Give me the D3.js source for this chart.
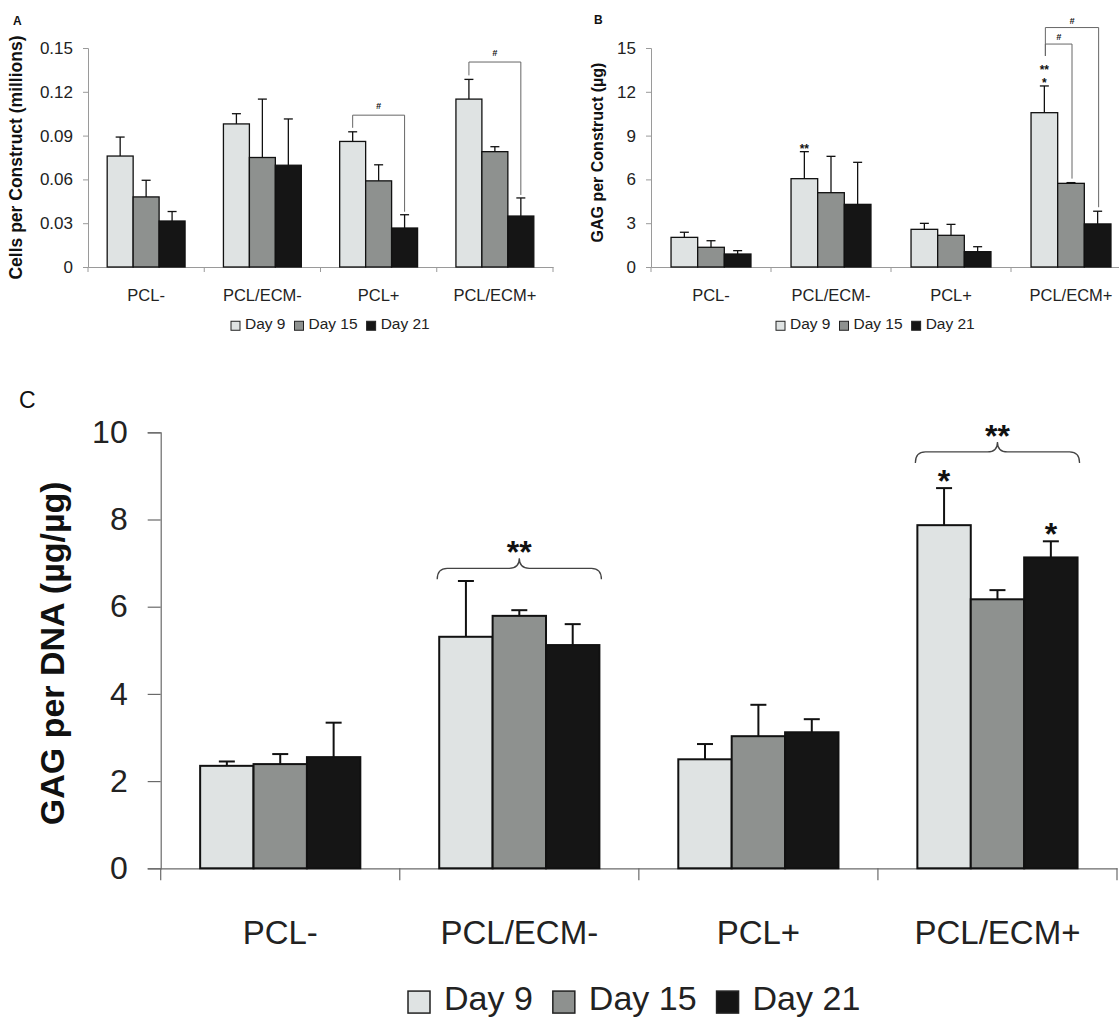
<!DOCTYPE html>
<html>
<head>
<meta charset="utf-8">
<script src="https://cdn.jsdelivr.net/npm/d3@7/dist/d3.min.js"></script>
<style>
  body { margin: 0; background: #fff; }
  svg { display: block; font-family: "Liberation Sans", Arial, sans-serif; }
</style>
</head>
<body>
<script>
// ---------------- DATA ----------------
const categories = ["PCL-", "PCL/ECM-", "PCL+", "PCL/ECM+"];
const days = ["Day 9", "Day 15", "Day 21"];

// Panel A: Cells per Construct (millions)
const cellsDay9 = [0.076, 0.098, 0.086, 0.115];
const cellsDay15 = [0.048, 0.075, 0.059, 0.079];
const cellsDay21 = [0.0315, 0.0697, 0.0267, 0.0349];
const cellsErr9 = [0.013, 0.007, 0.0066, 0.0135];
const cellsErr15 = [0.0114, 0.040, 0.011, 0.0034];
const cellsErr21 = [0.0065, 0.0317, 0.0091, 0.0124];
const cellsTicks = [0, 0.03, 0.06, 0.09, 0.12, 0.15];
const cellsTickLabels = ["0", "0.03", "0.06", "0.09", "0.12", "0.15"];

// Panel B: GAG per Construct (µg)
const gagDay9 = [2.03, 6.05, 2.58, 10.57];
const gagDay15 = [1.35, 5.09, 2.17, 5.73];
const gagDay21 = [0.89, 4.29, 1.05, 2.95];
const gagErr9 = [0.35, 1.85, 0.41, 1.83];
const gagErr15 = [0.45, 2.49, 0.75, 0.05];
const gagErr21 = [0.23, 2.88, 0.34, 0.87];
const gagTicks = [0, 3, 6, 9, 12, 15];
const gagTickLabels = ["0", "3", "6", "9", "12", "15"];

// Panel C: GAG per DNA (µg/µg)
const dnaDay9 = [2.35, 5.31, 2.50, 7.87];
const dnaDay15 = [2.39, 5.79, 3.03, 6.17];
const dnaDay21 = [2.55, 5.12, 3.12, 7.13];
const dnaErr9 = [0.10, 1.28, 0.35, 0.85];
const dnaErr15 = [0.23, 0.13, 0.72, 0.21];
const dnaErr21 = [0.79, 0.48, 0.30, 0.37];
const dnaTicks = [0, 2, 4, 6, 8, 10];
const dnaTickLabels = ["0", "2", "4", "6", "8", "10"];

// Significance annotations (category index, series indices, level, label)
const cellsBrackets = [
  { cat: 2, from: 0, to: 2, level: 0.104, label: "#" },
  { cat: 3, from: 0, to: 2, level: 0.1404, label: "#" }
];
const gagStars = [
  { cat: 1, series: 0, label: "**" },
  { cat: 3, series: 0, label: "*" },
  { cat: 3, series: 0, label: "**", stack: 1 }
];
const gagBrackets = [
  { cat: 3, from: 0, to: 1, level: 15.27, label: "#" },
  { cat: 3, from: 0, to: 2, level: 16.4, label: "#" }
];
const dnaBraces = [
  { cat: 1, level: 6.88, label: "**" },
  { cat: 3, level: 9.55, label: "**" }
];
const dnaStars = [
  { cat: 3, series: 0, label: "*" },
  { cat: 3, series: 2, label: "*" }
];

// ---------------- STYLE ----------------
const fills = ["#dfe3e3", "#8e918f", "#151515"];
const W = 1119, H = 1017;
const svg = d3.select("body").append("svg").attr("width", W).attr("height", H);

function drawPanel(o) {
  const g = svg.append("g");
  const x0 = d3.scaleBand().domain(categories).range(o.xr);
  const bw = x0.bandwidth();
  const x1 = d3.scaleBand().domain(days).range([bw * o.pad, bw * (1 - o.pad)]);
  const y = d3.scaleLinear().domain([0, o.ymax]).range(o.yr);

  // y axis
  const ya = g.append("g").attr("transform", `translate(${o.xr[0]},0)`)
    .call(d3.axisLeft(y).tickValues(o.ticks).tickFormat((d, i) => o.tickLabels[i])
      .tickSize(o.tickLen).tickPadding(o.tickPad));
  ya.select(".domain").attr("stroke", o.axisColor).attr("stroke-width", o.axisW);
  ya.selectAll(".tick line").attr("stroke", o.axisColor).attr("stroke-width", o.axisW);
  ya.selectAll(".tick text").attr("font-size", o.tickFont).attr("fill", "#222")
    .attr("font-family", "Liberation Sans, Arial, sans-serif");

  // x axis (labels at band centres, ticks at band boundaries)
  const xa = g.append("g").attr("transform", `translate(0,${y(0)})`)
    .call(d3.axisBottom(x0).tickSize(0).tickPadding(o.catPad));
  xa.select(".domain").attr("stroke", o.axisColor).attr("stroke-width", o.axisW);
  xa.selectAll(".tick text").attr("font-size", o.catFont).attr("fill", "#222")
    .attr("font-family", "Liberation Sans, Arial, sans-serif");
  const bounds = categories.map(c => x0(c)).concat([o.xr[1]]);
  g.selectAll(".xb").data(bounds).enter().append("line")
    .attr("x1", d => d).attr("x2", d => d)
    .attr("y1", y(0)).attr("y2", y(0) + o.xTickLen)
    .attr("stroke", o.axisColor).attr("stroke-width", o.axisW);

  // bars
  const rows = [];
  categories.forEach((c, i) => {
    days.forEach((d, j) => {
      rows.push({ c, d, i, j, v: o.series[j][i], e: o.errs[j][i] });
    });
  });
  g.selectAll(".bar").data(rows).enter().append("rect")
    .attr("x", r => x0(r.c) + x1(r.d))
    .attr("y", r => y(r.v))
    .attr("width", x1.bandwidth())
    .attr("height", r => y(0) - y(r.v))
    .attr("fill", r => fills[r.j])
    .attr("stroke", "#111").attr("stroke-width", o.barStroke);

  // error bars (upper only)
  const eg = g.selectAll(".err").data(rows).enter().append("g");
  eg.append("line")
    .attr("x1", r => x0(r.c) + x1(r.d) + x1.bandwidth() / 2)
    .attr("x2", r => x0(r.c) + x1(r.d) + x1.bandwidth() / 2)
    .attr("y1", r => y(r.v)).attr("y2", r => y(r.v + r.e))
    .attr("stroke", "#111").attr("stroke-width", o.errW);
  eg.append("line")
    .attr("x1", r => x0(r.c) + x1(r.d) + x1.bandwidth() / 2 - o.cap / 2)
    .attr("x2", r => x0(r.c) + x1(r.d) + x1.bandwidth() / 2 + o.cap / 2)
    .attr("y1", r => y(r.v + r.e)).attr("y2", r => y(r.v + r.e))
    .attr("stroke", "#111").attr("stroke-width", o.errW);

  // axis title
  g.append("text")
    .attr("transform", `translate(${o.titleX},${(o.yr[0] + o.yr[1]) / 2 + o.titleDy}) rotate(-90)`)
    .attr("text-anchor", "middle").attr("font-weight", "bold")
    .attr("font-size", o.titleFont).attr("fill", "#111").text(o.title);

  // panel letter
  g.append("text").attr("x", o.letterX).attr("y", o.letterY)
    .attr("font-size", o.letterFont).attr("font-weight", o.letterWeight)
    .attr("fill", "#111").text(o.letter);

  // legend
  const lg = g.append("g").attr("transform", `translate(${o.legX},${o.legY})`);
  let cx = 0;
  days.forEach((d, j) => {
    lg.append("rect").attr("x", cx).attr("y", -o.legBox * 0.86).attr("width", o.legBox).attr("height", o.legBox)
      .attr("fill", fills[j]).attr("stroke", "#222").attr("stroke-width", o.legStroke);
    const t = lg.append("text").attr("x", cx + o.legBox + o.legGap).attr("y", 0)
      .attr("font-size", o.legFont).attr("fill", "#222").text(d);
    cx += o.legBox + o.legGap + t.node().getComputedTextLength() + o.legSpace;
  });

  const barCenter = (i, j) => x0(categories[i]) + x1(days[j]) + x1.bandwidth() / 2;
  const errTop = (i, j) => o.series[j][i] + o.errs[j][i];
  return { g, x0, x1, y, barCenter, errTop };
}

// ---------------- PANEL A ----------------
const A = drawPanel({
  xr: [88, 553], yr: [267, 48], ymax: 0.15, pad: 0.165,
  ticks: cellsTicks, tickLabels: cellsTickLabels,
  series: [cellsDay9, cellsDay15, cellsDay21], errs: [cellsErr9, cellsErr15, cellsErr21],
  tickLen: 5, tickPad: 10, tickFont: 17, axisColor: "#9a9a9a", axisW: 1,
  catFont: 16.5, catPad: 22, xTickLen: 5,
  barStroke: 1.3, errW: 1.3, cap: 9,
  title: "Cells per Construct (millions)", titleX: 22, titleDy: 0, titleFont: 17.5,
  letter: "A", letterX: 13, letterY: 25, letterFont: 12, letterWeight: "bold",
  legX: 231, legY: 329, legBox: 9, legGap: 5, legSpace: 9, legFont: 15.5, legStroke: 1
});
cellsBrackets.forEach(b => {
  const xl = A.barCenter(b.cat, b.from), xr = A.barCenter(b.cat, b.to);
  const yh = A.y(b.level);
  A.g.append("path")
    .attr("d", `M${xl},${A.y(A.errTop(b.cat, b.from)) - 4}V${yh}H${xr}V${A.y(A.errTop(b.cat, b.to)) - 3}`)
    .attr("fill", "none").attr("stroke", "#666").attr("stroke-width", 1);
  A.g.append("text").attr("x", (xl + xr) / 2).attr("y", yh - 6).attr("text-anchor", "middle")
    .attr("font-size", 9).attr("font-weight", "bold").attr("font-style", "italic").attr("fill", "#111").text(b.label);
});

// ---------------- PANEL B ----------------
const B = drawPanel({
  xr: [651, 1131], yr: [267, 48], ymax: 15, pad: 0.167,
  ticks: gagTicks, tickLabels: gagTickLabels,
  series: [gagDay9, gagDay15, gagDay21], errs: [gagErr9, gagErr15, gagErr21],
  tickLen: 5, tickPad: 10, tickFont: 17, axisColor: "#9a9a9a", axisW: 1,
  catFont: 16.5, catPad: 22, xTickLen: 5,
  barStroke: 1.3, errW: 1.3, cap: 9,
  title: "GAG per Construct (µg)", titleX: 603, titleDy: -5, titleFont: 16,
  letter: "B", letterX: 594, letterY: 24, letterFont: 12, letterWeight: "bold",
  legX: 776, legY: 329, legBox: 9, legGap: 5, legSpace: 9, legFont: 15.5, legStroke: 1
});
gagStars.forEach(s => {
  const yb = B.y(B.errTop(s.cat, s.series)) - (s.stack || 0) * 12.5;
  B.g.append("text").attr("x", B.barCenter(s.cat, s.series)).attr("y", yb + 1)
    .attr("text-anchor", "middle").attr("font-size", 12).attr("font-weight", "bold")
    .attr("fill", "#111").text(s.label);
});
gagBrackets.forEach(b => {
  const xl = B.barCenter(b.cat, b.from) + 1, xr = B.barCenter(b.cat, b.to) + 1;
  const yh = B.y(b.level);
  B.g.append("path")
    .attr("d", `M${xl},${B.y(B.errTop(b.cat, b.from)) - 30}V${yh}H${xr}V${B.y(B.errTop(b.cat, b.to)) - 4}`)
    .attr("fill", "none").attr("stroke", "#666").attr("stroke-width", 1);
  B.g.append("text").attr("x", (xl + xr) / 2).attr("y", yh - 4).attr("text-anchor", "middle")
    .attr("font-size", 9).attr("font-weight", "bold").attr("font-style", "italic").attr("fill", "#111").text(b.label);
});

// ---------------- PANEL C ----------------
const C = drawPanel({
  xr: [160.7, 1117], yr: [868.3, 432.3], ymax: 10, pad: 0.165,
  ticks: dnaTicks, tickLabels: dnaTickLabels,
  series: [dnaDay9, dnaDay15, dnaDay21], errs: [dnaErr9, dnaErr15, dnaErr21],
  tickLen: 13, tickPad: 20, tickFont: 32, axisColor: "#6a6a6a", axisW: 1.2,
  catFont: 33, catPad: 52, xTickLen: 12,
  barStroke: 2, errW: 2, cap: 16,
  title: "GAG per DNA (µg/µg)", titleX: 64, titleDy: 3, titleFont: 34,
  letter: "C", letterX: 19, letterY: 408, letterFont: 23, letterWeight: "normal",
  legX: 408, legY: 1010, legBox: 22, legGap: 14, legSpace: 20, legFont: 34, legStroke: 1.5
});
dnaBraces.forEach(b => {
  const cat = categories[b.cat];
  const xl = C.x0(cat) + C.x1(days[0]) - 2;
  const xr = C.x0(cat) + C.x1(days[2]) + C.x1.bandwidth() + 2;
  const mid = (xl + xr) / 2;
  const yh = C.y(b.level), r = 10, drop = 11, peak = 10;
  const d = `M${xl},${yh + drop} Q${xl},${yh} ${xl + r},${yh} L${mid - r},${yh} Q${mid},${yh} ${mid},${yh - peak}` +
            ` Q${mid},${yh} ${mid + r},${yh} L${xr - r},${yh} Q${xr},${yh} ${xr},${yh + drop}`;
  C.g.append("path").attr("d", d).attr("fill", "none").attr("stroke", "#444").attr("stroke-width", 1.3);
  C.g.append("text").attr("x", mid).attr("y", yh - peak + 5).attr("text-anchor", "middle")
    .attr("font-size", 32).attr("font-weight", "bold").attr("fill", "#111").text(b.label);
});
dnaStars.forEach(s => {
  C.g.append("text").attr("x", C.barCenter(s.cat, s.series)).attr("y", C.y(C.errTop(s.cat, s.series)) + 4)
    .attr("text-anchor", "middle").attr("font-size", 32).attr("font-weight", "bold")
    .attr("fill", "#111").text(s.label);
});
</script>
</body>
</html>
